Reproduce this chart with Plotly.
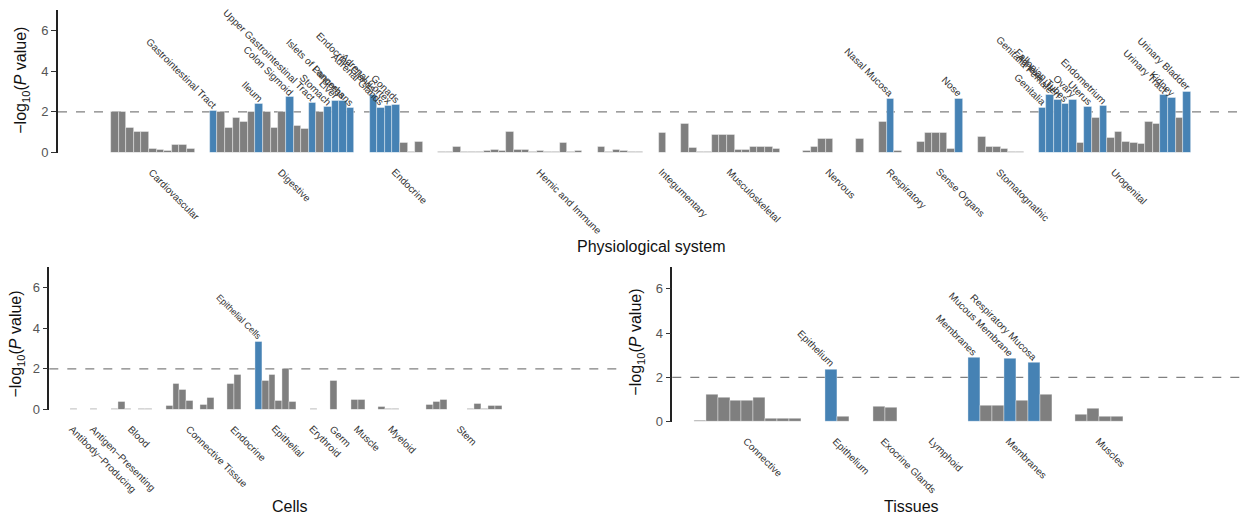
import plotly.graph_objects as go

# ---- Physiological system panel -------------------------------------------
sys_groups = ["Cardiovascular", "Digestive", "Endocrine", "Hemic and Immune",
              "Integumentary", "Musculoskeletal", "Nervous", "Respiratory",
              "Sense Organs", "Stomatognathic", "Urogenital"]
sys_values = [
    [2.0, 2.0, 1.23, 1.04, 1.04, 0.2, 0.13, 0.08, 0.4, 0.4, 0.2],
    [2.05, 2.0, 1.23, 1.7, 1.52, 2.0, 2.4, 2.0, 1.23, 2.0, 2.72, 1.31, 1.17,
     2.43, 2.0, 2.24, 2.55, 2.55, 2.2],
    [2.83, 2.2, 2.29, 2.35, 0.46, 0.05, 0.53],
    [0.04, 0.04, 0.29, 0.03, 0.02, 0.06, 0.1, 0.13, 0.08, 1.0, 0.16, 0.16,
     0.02, 0.1, 0.03, 0.05, 0.46, 0.03, 0.1, 0.01, 0.01, 0.3, 0.05, 0.16,
     0.07, 0.04, 0.04],
    [0.96],
    [1.41, 0.24, 0.04, 0.04, 0.88, 0.88, 0.88, 0.14, 0.14, 0.26, 0.26, 0.26, 0.2],
    [0.01, 0.1, 0.27, 0.66, 0.66, 0.01, 0.01, 0.01, 0.66],
    [1.52, 2.64, 0.08],
    [0.51, 0.96, 0.96, 0.96, 0.19, 2.64],
    [0.78, 0.27, 0.27, 0.18, 0.02, 0.02],
    [2.21, 2.82, 2.59, 2.37, 2.59, 0.46, 2.24, 1.71, 2.29, 0.7, 1.0, 0.53,
     0.5, 0.45, 1.52, 1.41, 2.83, 2.67, 1.71, 2.96],
]
sys_hits = [
    {},
    {0: "Gastrointestinal Tract", 6: "Ileum", 10: "Colon Sigmoid",
     13: "Upper Gastrointestinal Tract", 15: "Stomach", 16: "Liver",
     17: "Pancreas", 18: "Islets of Langerhans"},
    {0: "Endocrine Glands", 1: "Adrenal Glands", 2: "Adrenal Cortex", 3: "Gonads"},
    {}, {}, {}, {},
    {1: "Nasal Mucosa"},
    {5: "Nose"},
    {},
    {0: "Genitalia", 1: "Genitalia Female", 2: "Adnexa Uteri",
     3: "Fallopian Tubes", 4: "Ovary", 6: "Uterus", 8: "Endometrium",
     16: "Urinary Tract", 17: "Kidney", 19: "Urinary Bladder"},
]

# ---- Cells panel -----------------------------------------------------------
cell_groups = ["Antibody\u2212Producing", "Antigen\u2212Presenting", "Blood",
               "Connective Tissue", "Endocrine", "Epithelial", "Erythroid",
               "Germ", "Muscle", "Myeloid", "Stem"]
cell_values = [
    [0.03],
    [0.03],
    [0.05, 0.4, 0.03, 0.01, 0.03, 0.03],
    [0.2, 1.28, 0.98, 0.42, 0.01, 0.25, 0.6],
    [1.28, 1.7],
    [3.33, 1.4, 1.7, 0.45, 2.0, 0.38],
    [0.03],
    [1.4],
    [0.5, 0.5],
    [0.12, 0.02, 0.04, 0.01],
    [0.01, 0.25, 0.4, 0.48, 0.0, 0.0, 0.01, 0.02, 0.3, 0.02, 0.2, 0.2],
]
cell_hits = [{}, {}, {}, {}, {}, {0: "Epithelial Cells"}, {}, {}, {}, {}, {}]

# ---- Tissues panel ---------------------------------------------------------
tis_groups = ["Connective", "Epithelium", "Exocrine Glands", "Lymphoid",
              "Membranes", "Muscles"]
tis_values = [
    [0.07, 1.23, 1.07, 0.96, 0.96, 1.07, 0.13, 0.13, 0.16],
    [2.37, 0.24],
    [0.7, 0.64],
    [0.02, 0.02],
    [2.89, 0.73, 0.73, 2.84, 0.93, 2.67, 1.23],
    [0.34, 0.59, 0.25, 0.25],
]
tis_hits = [{}, {0: "Epithelium"}, {}, {},
            {0: "Membranes", 3: "Mucous Membrane", 5: "Respiratory Mucosa"}, {}]

GREY = "#7f7f7f"
BLUE = "#4682b4"
FONT = "Liberation Sans"
W, H = 1241, 520

fig = go.Figure()


def add_panel(groups, values, hits, xa, ya, lab_size, grp_size):
    xs, ys, cols, centers = [], [], [], []
    slot = 0
    annotations = []
    for g, vals, hit in zip(groups, values, hits):
        start = slot
        for i, v in enumerate(vals):
            xs.append(slot)
            ys.append(v)
            cols.append(BLUE if i in hit else GREY)
            if i in hit:
                annotations.append(dict(
                    x=slot, y=v, xref=xa, yref=ya, text=hit[i],
                    textangle=45, xanchor="right", yanchor="bottom",
                    xshift=8, yshift=-3, showarrow=False,
                    font=dict(family=FONT, size=lab_size, color="#333333")))
            slot += 1
        centers.append((start + slot - 1) / 2)
        slot += 2
    for g, c in zip(groups, centers):
        annotations.append(dict(
            x=c, y=0, xref=xa, yref=ya, text=g, textangle=45,
            xanchor="left", yanchor="top", xshift=-9, yshift=-11,
            showarrow=False,
            font=dict(family=FONT, size=grp_size, color="#333333")))
    fig.add_trace(go.Bar(
        x=xs, y=ys, width=[1] * len(xs), xaxis=xa, yaxis=ya,
        marker=dict(color=cols, line=dict(color="rgba(255,255,255,0.55)", width=0.7)),
        showlegend=False, hoverinfo="skip"))
    fig.add_shape(type="line", xref=f"{xa} domain", yref=ya, x0=0, x1=1,
                  y0=2, y1=2, layer="below",
                  line=dict(color="#808080", width=1.3, dash="dash"))
    return annotations


ann = []
ann += add_panel(sys_groups, sys_values, sys_hits, "x", "y", 10, 10)
ann += add_panel(cell_groups, cell_values, cell_hits, "x2", "y2", 9, 10)
ann += add_panel(tis_groups, tis_values, tis_hits, "x3", "y3", 10, 10)


def px(v):
    return v / W


def py(v):
    return 1 - v / H


ytitle = "\u2212log<sub>10</sub>(<i>P</i> value)"
for xpos, ypos in [(22, 82), (17, 350), (637, 348)]:
    ann.append(dict(x=px(xpos), y=py(ypos), xref="paper", yref="paper",
                    text=ytitle, textangle=-90, showarrow=False,
                    xanchor="center", yanchor="middle",
                    font=dict(family=FONT, size=16, color="#111111")))
for txt, xpos, ypos in [("Physiological system", 651, 250),
                        ("Cells", 290, 514), ("Tissues", 911, 514)]:
    ann.append(dict(x=px(xpos), y=py(ypos), xref="paper", yref="paper",
                    text=txt, showarrow=False, xanchor="center",
                    yanchor="middle",
                    font=dict(family=FONT, size=16, color="#111111")))

yax = dict(range=[0, 7], tickvals=[0, 2, 4, 6], ticks="outside", ticklen=5,
           tickwidth=1.3, tickcolor="#333333", showline=True, linewidth=1.6,
           linecolor="#222222", showgrid=False, zeroline=False,
           tickfont=dict(family=FONT, size=13, color="#555555"))
xax = dict(showgrid=False, zeroline=False, showline=False,
           showticklabels=False, ticks="")

fig.update_layout(
    width=W, height=H, margin=dict(l=0, r=0, t=0, b=0),
    plot_bgcolor="white", paper_bgcolor="white", bargap=0,
    annotations=ann,
    xaxis=dict(xax, domain=[px(58), 1], range=[-7.47, 148.1], anchor="y"),
    yaxis=dict(yax, domain=[py(155), py(10)], anchor="x"),
    xaxis2=dict(xax, domain=[px(49.3), px(620)], range=[-3.52, 79.7], anchor="y2"),
    yaxis2=dict(yax, domain=[py(416), py(271)], anchor="x2"),
    xaxis3=dict(xax, domain=[px(672.3), 1], range=[-2.32, 45.35], anchor="y3"),
    yaxis3=dict(yax, domain=[py(428.3), py(270.8)], anchor="x3"),
)

fig.write_html("out.html")
